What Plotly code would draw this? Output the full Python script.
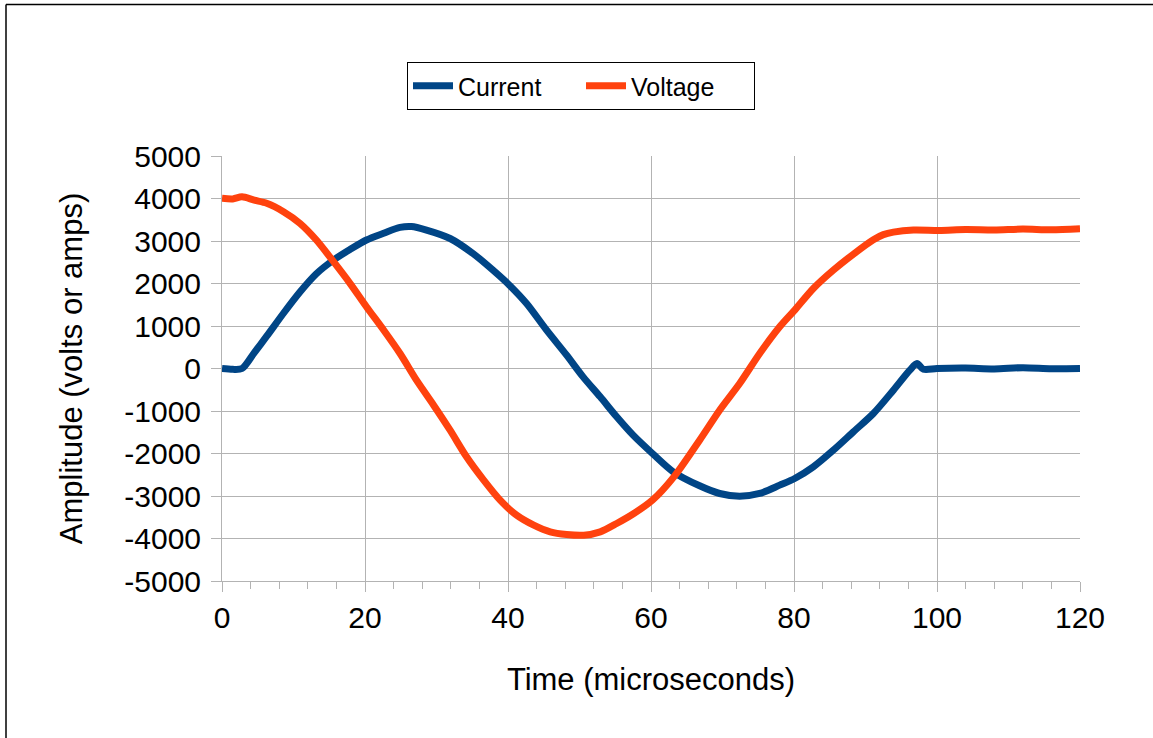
import plotly.graph_objects as go

# ---- data ----
current_t = [0, 1.5, 2.8, 4.5, 6.25, 8.6, 10.9, 13.2, 15.6, 17.9, 20.2, 22.6, 24.9, 26.5,
             28.6, 31.9, 35.1, 37.9, 40.2, 42.6, 45.4, 48.2, 50.5, 52.9, 55.2, 57.5,
             60.2, 63.1, 66.8, 69.6, 72.4, 75.2, 78.0, 80.1, 82.7, 85.5, 88.3, 91.1,
             93.9, 96.2, 97.2, 98.1, 100, 104, 108, 112, 116, 120]
current_a = [0, -20, 0, 370, 760, 1300, 1800, 2230, 2553, 2800, 3023, 3181, 3320, 3340,
             3255, 3059, 2706, 2314, 1961, 1529, 902, 314, -196, -667, -1137, -1569,
             -2000, -2431, -2760, -2941, -3004, -2941, -2745, -2588, -2314, -1922, -1490, -1059,
             -510, -39, 118, -16, 0, 10, -10, 20, -5, 0]

voltage_t = [0, 1.5, 2.8, 4.5, 6.25, 8.6, 10.9, 13.2, 15.6, 17.9, 20.2, 22.6, 24.9, 27.2,
             29.6, 31.9, 34.2, 36.6, 38.9, 41.2, 43.6, 45.9, 48.2, 50.6, 52.9, 55.2, 57.6,
             60.2, 63.2, 66.8, 69.6, 72.4, 75.2, 78.0, 80.1, 82.7, 85.5, 88.3, 91.1, 92.5,
             93.9, 96.7, 100.3, 104, 108, 112, 116, 120]
voltage_v = [4005, 3990, 4040, 3960, 3887, 3690, 3416, 3023, 2513, 2004, 1454, 906, 353, -275,
             -863, -1451, -2078, -2627, -3098, -3451, -3686, -3843, -3906, -3922, -3843, -3647, -3412,
             -3098, -2549, -1686, -980, -353, 353, 980, 1373, 1882, 2314, 2690, 3030, 3150,
             3210, 3260, 3250, 3270, 3260, 3280, 3265, 3290]

x_ticks = [0, 20, 40, 60, 80, 100, 120]
y_ticks = [-5000, -4000, -3000, -2000, -1000, 0, 1000, 2000, 3000, 4000, 5000]
y_tick_text = ["-5000", "-4000", "-3000", "-2000", "-1000", "0", "1000", "2000", "3000", "4000", "5000"]

BLUE = "#004586"
ORANGE = "#ff420e"
GRID = "#b3b3b3"
FONT = "Liberation Sans, Arial, sans-serif"

fig = go.Figure()
fig.add_trace(go.Scatter(x=current_t, y=current_a, name="Current", mode="lines",
                         line=dict(color=BLUE, width=7, shape="spline", smoothing=0.8)))
fig.add_trace(go.Scatter(x=voltage_t, y=voltage_v, name="Voltage", mode="lines",
                         line=dict(color=ORANGE, width=7, shape="spline", smoothing=0.8)))

W, H = 1153, 738
L, R, T, B = 222, 73, 156, 157
pw, ph = W - L - R, H - T - B


def px(x):
    return (x - L) / pw


def py(y):
    return 1 - (y - T) / ph


fig.update_layout(
    width=W, height=H,
    margin=dict(l=L, r=R, t=T, b=B),
    paper_bgcolor="white", plot_bgcolor="white",
    font=dict(family=FONT, color="black"),
    showlegend=True,
    legend=dict(orientation="h", x=px(581), xanchor="center", y=py(62), yanchor="top",
                bordercolor="black", borderwidth=1, font=dict(size=25, color="black"),
                bgcolor="white", entrywidth=118, itemwidth=40),
    xaxis=dict(range=[0, 120], tickvals=x_ticks, ticks="outside", ticklen=10, tickcolor=GRID,
               showgrid=True, gridcolor=GRID, gridwidth=1, showline=True, linecolor=GRID,
               zeroline=False, tickfont=dict(size=30, color="black"),
               minor=dict(dtick=4, ticks="outside", ticklen=7, tickcolor=GRID, showgrid=False),
               title=dict(text="Time (microseconds)", font=dict(size=31, color="black"), standoff=35)),
    yaxis=dict(range=[-5000, 5000], tickvals=y_ticks, ticktext=y_tick_text, ticks="outside",
               ticklen=10, tickcolor=GRID, ticklabelstandoff=4,
               showgrid=True, gridcolor=GRID, gridwidth=1, showline=True, linecolor=GRID,
               zeroline=False, tickfont=dict(size=30, color="black"),
               title=dict(text="Amplitude (volts or amps)", font=dict(size=31, color="black"), standoff=32)),
    shapes=[
        dict(type="line", xref="paper", yref="paper", x0=px(6), x1=px(6), y0=py(4.5), y1=py(745),
             line=dict(color="black", width=1.5)),
        dict(type="line", xref="paper", yref="paper", x0=px(6), x1=px(1160), y0=py(4.5), y1=py(4.5),
             line=dict(color="black", width=1.5)),
    ],
)

fig.write_html("out.html", config={"displayModeBar": False},
               post_script="document.body.style.margin='0px';")
